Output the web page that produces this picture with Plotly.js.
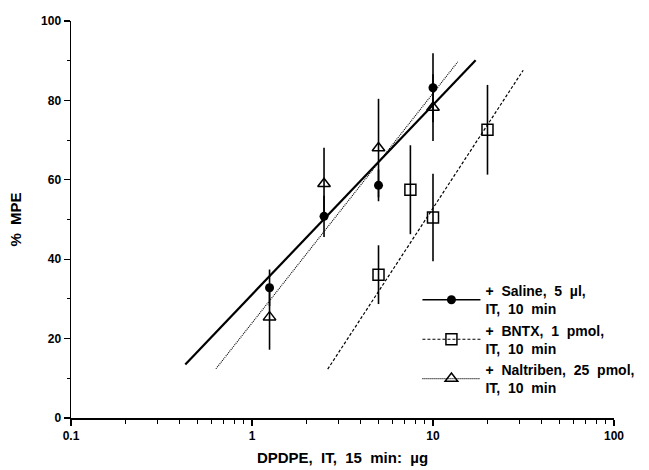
<!DOCTYPE html>
<html>
<head>
<meta charset="utf-8">
<script src="https://cdn.plot.ly/plotly-3.0.1.min.js"></script>
<style>html,body{margin:0;padding:0;background:#fff;}#chart{width:649px;height:470px;}</style>
</head>
<body>
<div id="chart"></div>
<script>
// Data
const salineX = [1.25, 2.5, 5, 10];
const salineY = [32.8, 50.8, 58.6, 83.2];
const salineErr = [4.6, 5.2, 4.0, 8.7];

const bntxX = [5, 7.5, 10, 20];
const bntxY = [36.1, 57.5, 50.5, 72.6];
const bntxErr = [7.4, 11.2, 11.0, 11.3];

const naltX = [1.25, 2.5, 5, 10];
const naltY = [25.4, 59.0, 68.0, 78.2];
const naltErr = [8.2, 9.1, 12.4, 8.4];

// Regression line endpoints
const salineFitX = [0.428, 17.2];
const salineFitY = [13.5, 90.1];
const bntxFitX = [2.62, 31.5];
const bntxFitY = [12.3, 87.6];
const naltFitX = [0.632, 13.7];
const naltFitY = [12.4, 89.7];

const S = '\u00a0\u00a0';
const legendNames = [
  '+' + S + 'Saline,' + S + '5' + S + '\u00b5l,<br>IT,' + S + '10' + S + 'min',
  '+' + S + 'BNTX,' + S + '1' + S + 'pmol,<br>IT,' + S + '10' + S + 'min',
  '+' + S + 'Naltriben,' + S + '25' + S + 'pmol,<br>IT,' + S + '10' + S + 'min'
];
const xTitle = 'DPDPE,' + S + 'IT,' + S + '15' + S + 'min:' + S + '\u00b5g';
const yTitle = '%' + S + 'MPE';

const yTicks = [0, 20, 40, 60, 80, 100];
const xTicks = [0.1, 1, 10, 100];
const xTickText = ['0.1', '1', '10', '100'];

const FONT = 'Liberation Sans, Arial, Helvetica, sans-serif';
const errStyle = {type: 'data', visible: true, thickness: 1.6, width: 0, color: '#000'};

const traces = [
  // fit lines
  {x: salineFitX, y: salineFitY, mode: 'lines', line: {color: '#000', width: 2.2}, showlegend: false, hoverinfo: 'skip'},
  {x: bntxFitX, y: bntxFitY, mode: 'lines', line: {color: '#000', width: 1.2, dash: '3px,2px'}, showlegend: false, hoverinfo: 'skip'},
  {x: naltFitX, y: naltFitY, mode: 'lines', line: {color: '#000', width: 1.1, dash: '1px,1px'}, showlegend: false, hoverinfo: 'skip'},
  // points
  {x: salineX, y: salineY, mode: 'markers', error_y: Object.assign({array: salineErr}, errStyle),
   marker: {symbol: 'circle', size: 9, color: '#000'}, showlegend: false},
  {x: bntxX, y: bntxY, mode: 'markers', error_y: Object.assign({array: bntxErr}, errStyle),
   marker: {symbol: 'square-open', size: 11, color: '#000', line: {width: 1.5}}, showlegend: false},
  {x: naltX, y: naltY, mode: 'markers', error_y: Object.assign({array: naltErr}, errStyle),
   marker: {symbol: 'triangle-up-open', size: 11, color: '#000', line: {width: 1.5}}, showlegend: false},
  // legend-only entries
  {x: [null], y: [null], mode: 'lines+markers', name: legendNames[0],
   line: {color: '#000', width: 1.6}, marker: {symbol: 'circle', size: 9, color: '#000'}},
  {x: [null], y: [null], mode: 'lines+markers', name: legendNames[1],
   line: {color: '#000', width: 1.1, dash: '3px,2px'}, marker: {symbol: 'square-open', size: 11, color: '#000', line: {width: 1.5}}},
  {x: [null], y: [null], mode: 'lines+markers', name: legendNames[2],
   line: {color: '#000', width: 1.1, dash: '1px,1px'}, marker: {symbol: 'triangle-up-open', size: 11, color: '#000', line: {width: 1.5}}}
];

const layout = {
  width: 649, height: 470,
  margin: {l: 71, r: 35, t: 21, b: 52, pad: 0, autoexpand: false},
  paper_bgcolor: '#fff', plot_bgcolor: '#fff',
  font: {family: FONT, color: '#000', size: 12, weight: 'bold'},
  showlegend: true,
  legend: {x: 0.638, y: 0.36, xanchor: 'left', yanchor: 'top', bgcolor: 'rgba(0,0,0,0)',
           font: {family: FONT, size: 14, color: '#000', weight: 'bold'}, itemwidth: 58},
  xaxis: {
    type: 'log', range: [-1, 2], automargin: false,
    tickmode: 'array', tickvals: xTicks, ticktext: xTickText,
    ticks: 'outside', ticklen: 6, tickwidth: 1.2, tickcolor: '#000',
    minor: {dtick: 'D1', ticks: 'outside', ticklen: 4, tickwidth: 1, tickcolor: '#000', showgrid: false},
    showline: true, linecolor: '#000', linewidth: 1.5, showgrid: false, zeroline: false,
    tickfont: {family: FONT, size: 12, weight: 'bold'},
    title: {text: xTitle, font: {family: FONT, size: 15, weight: 'bold'}, standoff: 10}
  },
  yaxis: {
    range: [0, 100], automargin: false,
    tickmode: 'array', tickvals: yTicks,
    ticks: 'outside', ticklen: 6, tickwidth: 1.2, tickcolor: '#000',
    minor: {dtick: 10, ticks: 'outside', ticklen: 3, tickwidth: 1, tickcolor: '#000', showgrid: false},
    showline: true, linecolor: '#000', linewidth: 1.5, showgrid: false, zeroline: false,
    tickfont: {family: FONT, size: 12, weight: 'bold'},
    title: {text: yTitle, font: {family: FONT, size: 15, weight: 'bold'}, standoff: 16}
  }
};

Plotly.newPlot('chart', traces, layout, {displayModeBar: false, staticPlot: true});
</script>
</body>
</html>
